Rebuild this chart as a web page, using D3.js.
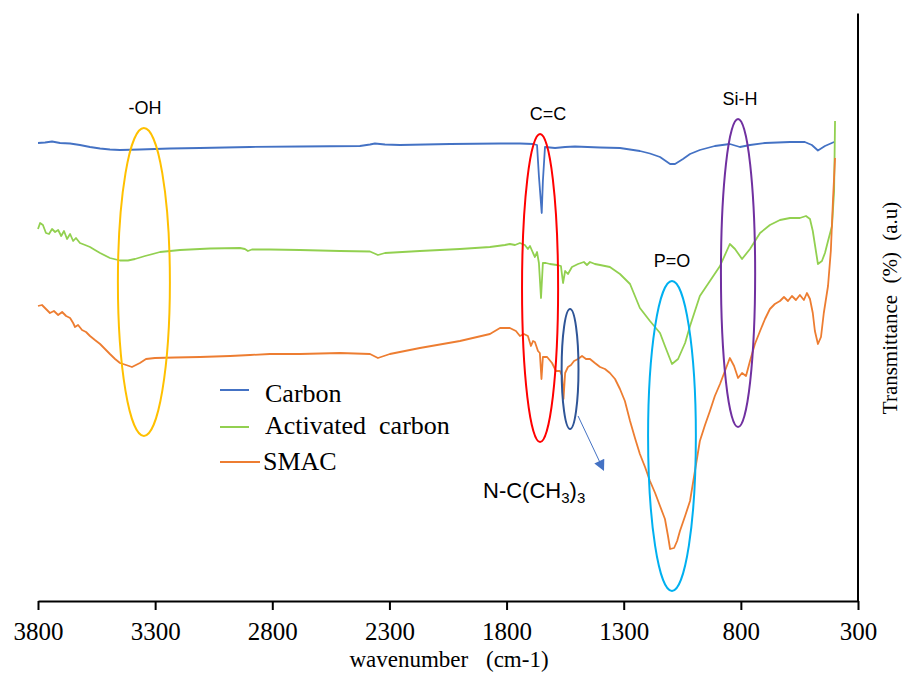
<!DOCTYPE html>
<html>
<head>
<meta charset="utf-8">
<script src="https://cdn.jsdelivr.net/npm/d3@7"></script>
<style>
  body { margin: 0; background: #fff; }
  svg { display: block; }
</style>
</head>
<body>
<div id="chart"></div>
<script>
///////////////////////////////////////////////////////////////////////////
////////////////////////////// Data ///////////////////////////////////////
///////////////////////////////////////////////////////////////////////////

//[wavenumber (cm-1), transmittance (a.u.)]
var carbon = [
	[3800,91.6],[3770,91.7],[3740,91.9],[3706,91.6],[3663,91.5],[3621,91.2],[3578,90.8],
	[3535,90.5],[3493,90.3],[3450,90.2],[3365,90.3],[3237,90.5],[3109,90.6],[2895,90.8],
	[2682,90.9],[2426,91.0],[2383,91.3],[2362,91.5],[2319,91.3],[2255,91.2],[2041,91.4],
	[1828,91.5],[1743,91.5],[1687,91.4],[1670,91.2],[1662,85.0],[1650,77.6],[1645,84.0],
	[1636,90.8],[1615,90.7],[1593,90.6],[1550,90.8],[1508,90.9],[1401,90.7],[1316,90.6],
	[1231,90.0],[1188,89.5],[1145,88.8],[1102,87.4],[1081,87.4],[1047,88.4],[1017,89.4],
	[975,90.2],[911,91.0],[847,91.4],[804,90.8],[761,91.2],[697,91.6],[590,91.8],
	[527,91.8],[497,91.2],[471,90.1],[441,91.0],[402,91.8]
];

var activated = [
	[3800,74.4],[3791,75.6],[3779,75.2],[3766,73.6],[3753,73.4],[3740,74.4],[3727,73.8],
	[3714,74.2],[3701,73.0],[3689,74.0],[3676,72.4],[3663,73.4],[3650,72.0],[3638,72.6],
	[3621,71.6],[3599,71.2],[3578,70.8],[3557,70.2],[3535,69.6],[3493,68.6],[3450,68.1],
	[3416,68.1],[3386,68.4],[3343,69.0],[3279,69.8],[3194,70.2],[3066,70.5],[2938,70.6],
	[2917,70.4],[2904,70.0],[2887,70.3],[2810,70.3],[2682,70.2],[2511,70.0],[2383,69.9],
	[2349,69.2],[2319,69.6],[2170,70.0],[1999,70.4],[1871,70.8],[1807,71.2],[1786,71.4],
	[1764,71.2],[1743,71.6],[1722,71.2],[1709,70.4],[1700,71.0],[1687,69.6],[1679,68.8],
	[1670,69.8],[1662,67.6],[1653,60.6],[1645,67.6],[1632,67.6],[1615,67.4],[1585,67.2],
	[1568,67.0],[1559,63.6],[1550,66.0],[1538,65.4],[1521,66.8],[1495,67.4],[1470,67.8],
	[1457,67.2],[1444,67.8],[1423,67.4],[1401,67.2],[1359,66.8],[1316,65.4],[1273,63.4],
	[1231,58.6],[1188,56.0],[1145,53.6],[1124,51.0],[1094,47.4],[1068,48.4],[1038,51.6],
	[1017,55.0],[975,61.0],[932,64.0],[889,67.0],[847,71.4],[825,70.4],[795,68.4],
	[761,70.4],[718,73.6],[676,75.2],[633,76.2],[590,76.6],[548,76.6],[522,77.0],
	[505,76.4],[493,74.0],[471,67.4],[454,68.0],[441,69.6],[428,72.0],[411,75.0],
	[402,82.0],[398,96.0]
];

var smac = [
	[3800,59.0],[3783,59.2],[3766,58.4],[3749,57.6],[3732,58.0],[3714,57.2],[3697,57.8],
	[3680,57.0],[3663,56.6],[3650,55.6],[3642,54.8],[3629,55.2],[3612,54.2],[3595,53.8],
	[3578,53.0],[3557,52.2],[3535,51.4],[3514,50.4],[3493,49.4],[3471,48.4],[3450,47.6],
	[3424,47.2],[3399,46.8],[3365,47.6],[3339,48.4],[3301,48.6],[3216,48.7],[3109,48.8],
	[2980,49.0],[2895,49.2],[2810,49.4],[2682,49.4],[2511,49.6],[2383,49.4],[2349,48.6],
	[2298,49.4],[2170,50.6],[1999,52.0],[1871,53.4],[1828,54.6],[1786,54.6],[1760,54.0],
	[1743,53.0],[1726,53.4],[1709,53.0],[1696,51.0],[1687,52.0],[1679,51.8],[1666,50.0],
	[1658,49.6],[1651,44.4],[1645,48.8],[1627,48.8],[1606,47.6],[1589,46.0],[1572,46.0],
	[1563,45.0],[1557,40.4],[1550,45.6],[1538,46.8],[1525,47.2],[1512,48.0],[1495,48.4],
	[1478,49.0],[1461,48.4],[1444,48.4],[1423,47.6],[1401,46.8],[1380,46.4],[1359,45.6],
	[1337,44.4],[1316,42.4],[1295,40.0],[1273,36.0],[1252,32.6],[1231,29.4],[1209,26.8],
	[1188,24.0],[1166,21.6],[1145,19.0],[1124,16.4],[1111,13.0],[1102,10.4],[1085,10.6],
	[1072,12.0],[1060,14.0],[1038,17.0],[1017,20.0],[996,26.0],[975,32.0],[953,35.2],
	[932,38.0],[911,41.0],[889,43.4],[868,46.0],[847,48.6],[829,47.0],[812,44.6],
	[795,45.6],[778,45.0],[761,48.0],[740,51.4],[718,54.0],[697,56.4],[676,58.4],
	[655,59.4],[633,60.0],[616,60.8],[599,60.0],[582,61.0],[565,60.2],[548,61.2],
	[531,60.2],[518,61.6],[505,60.4],[493,57.6],[484,54.0],[471,51.4],[458,52.8],
	[446,57.6],[428,63.0],[416,70.0],[407,80.0],[398,88.6]
];

var seriesNames = ["Carbon", "Activated  carbon", "SMAC"];
var seriesData = [carbon, activated, smac];
var seriesColors = ["#4472C4", "#92D050", "#ED7D31"];

var xTicks = [3800, 3300, 2800, 2300, 1800, 1300, 800, 300];

//Marked bands: label, centre wavenumber, centre value, half width (cm-1), half height (a.u.)
var bandLabels = ["-OH", "C=C", "", "P=O", "Si-H"];
var bandCentres = [3348, 1657, 1529, 1094, 812];
var bandValues = [63.8, 62.6, 46.4, 33.0, 65.6];
var bandWidths = [111, 77, 36, 102, 73];
var bandHeights = [30.8, 30.8, 12.0, 31.0, 30.8];
var bandColors = ["#FFC000", "#FF0000", "#2F5597", "#00B0F0", "#7030A0"];

///////////////////////////////////////////////////////////////////////////
////////////////////////////// Setup //////////////////////////////////////
///////////////////////////////////////////////////////////////////////////

var width = 904, height = 673;

var svg = d3.select("#chart").append("svg")
	.attr("width", width)
	.attr("height", height);

var x = d3.scaleLinear().domain([3800, 300]).range([38, 858]);
var y = d3.scaleLinear().domain([0, 117.5]).range([601, 13.5]);

var serif = "'Liberation Serif', 'Times New Roman', serif",
	sans = "'Liberation Sans', Arial, sans-serif";

///////////////////////////////////////////////////////////////////////////
////////////////////////////// Axes ///////////////////////////////////////
///////////////////////////////////////////////////////////////////////////

var xAxis = svg.append("g")
	.attr("transform", "translate(0," + y(0) + ")")
	.call(d3.axisBottom(x).tickValues(xTicks).tickSize(9).tickSizeOuter(0).tickFormat(d3.format("d")));
xAxis.select(".domain").attr("stroke", "#000").attr("stroke-width", 2);
xAxis.selectAll(".tick line").attr("stroke", "#000").attr("stroke-width", 2);
xAxis.selectAll(".tick text")
	.attr("y", 39)
	.attr("dy", 0)
	.style("font-family", serif)
	.style("font-size", "25px")
	.attr("fill", "#000");

//Right hand frame line
svg.append("line")
	.attr("x1", x(300)).attr("x2", x(300))
	.attr("y1", y(117.5)).attr("y2", y(0))
	.attr("stroke", "#000")
	.attr("stroke-width", 2);

//Axis titles
svg.append("text")
	.attr("x", 449)
	.attr("y", 667)
	.style("text-anchor", "middle")
	.style("font-family", serif)
	.style("font-size", "23px")
	.style("word-spacing", "12px")
	.text("wavenumber (cm-1)");

svg.append("text")
	.attr("transform", "translate(897,308) rotate(-90)")
	.style("text-anchor", "middle")
	.style("font-family", serif)
	.style("font-size", "21px")
	.style("word-spacing", "6px")
	.text("Transmittance (%) (a.u)");

///////////////////////////////////////////////////////////////////////////
////////////////////////////// Spectra ////////////////////////////////////
///////////////////////////////////////////////////////////////////////////

var line = d3.line()
	.x(function(d) { return x(d[0]); })
	.y(function(d) { return y(d[1]); });

svg.append("g").selectAll("path")
	.data(seriesData)
	.enter().append("path")
	.attr("d", line)
	.attr("fill", "none")
	.attr("stroke", function(d, i) { return seriesColors[i]; })
	.attr("stroke-width", 1.8)
	.attr("stroke-linejoin", "round");

///////////////////////////////////////////////////////////////////////////
//////////////////////////// Annotations //////////////////////////////////
///////////////////////////////////////////////////////////////////////////

var labelShift = [1, 8, 0, 0, 2];

var bands = svg.append("g");
bandCentres.forEach(function(c, i) {
	var cx = x(c), cy = y(bandValues[i]),
		rx = x(c - bandWidths[i]) - cx, ry = cy - y(bandValues[i] + bandHeights[i]);
	bands.append("ellipse")
		.attr("cx", cx).attr("cy", cy)
		.attr("rx", rx).attr("ry", ry)
		.attr("fill", "none")
		.attr("stroke", bandColors[i])
		.attr("stroke-width", 2);
	if (bandLabels[i]) {
		bands.append("text")
			.attr("x", cx + labelShift[i])
			.attr("y", cy - ry - 14)
			.style("text-anchor", "middle")
			.style("font-family", sans)
			.style("font-size", "18px")
			.attr("fill", "#000")
			.text(bandLabels[i]);
	}
});

//Arrow from the N-C(CH3)3 band
svg.append("defs").append("marker")
	.attr("id", "arrowHead")
	.attr("viewBox", "0 0 10 10")
	.attr("refX", 8).attr("refY", 5)
	.attr("markerWidth", 12).attr("markerHeight", 11)
	.attr("orient", "auto")
	.attr("markerUnits", "userSpaceOnUse")
	.append("path")
	.attr("d", "M0,0 L10,5 L0,10 z")
	.attr("fill", "#4472C4");

var nx = x(bandCentres[2]), ny = y(bandValues[2]);
svg.append("line")
	.attr("x1", nx + 8).attr("y1", ny + 47)
	.attr("x2", nx + 33).attr("y2", ny + 100)
	.attr("stroke", "#4472C4")
	.attr("stroke-width", 1)
	.attr("marker-end", "url(#arrowHead)");

var nText = svg.append("text")
	.attr("x", 483)
	.attr("y", 498)
	.style("font-family", sans)
	.style("font-size", "22px")
	.attr("fill", "#000");
nText.append("tspan").text("N-C(CH");
nText.append("tspan").attr("dy", 5).style("font-size", "15px").text("3");
nText.append("tspan").attr("dy", -5).text(")");
nText.append("tspan").attr("dy", 5).style("font-size", "15px").text("3");

///////////////////////////////////////////////////////////////////////////
////////////////////////////// Legend /////////////////////////////////////
///////////////////////////////////////////////////////////////////////////

var legendY = [390, 427, 462],
	legendTextY = [402, 434, 470],
	legendLineEnd = [249, 249, 260];

var legend = svg.append("g");
seriesNames.forEach(function(name, i) {
	legend.append("line")
		.attr("x1", 220).attr("x2", legendLineEnd[i])
		.attr("y1", legendY[i]).attr("y2", legendY[i])
		.attr("stroke", seriesColors[i])
		.attr("stroke-width", 2);
	legend.append("text")
		.attr("x", i === 2 ? 263 : 265)
		.attr("y", legendTextY[i])
		.style("font-family", serif)
		.style("font-size", "26px")
		.style("white-space", "pre")
		.attr("fill", "#000")
		.text(name);
});
</script>
</body>
</html>
